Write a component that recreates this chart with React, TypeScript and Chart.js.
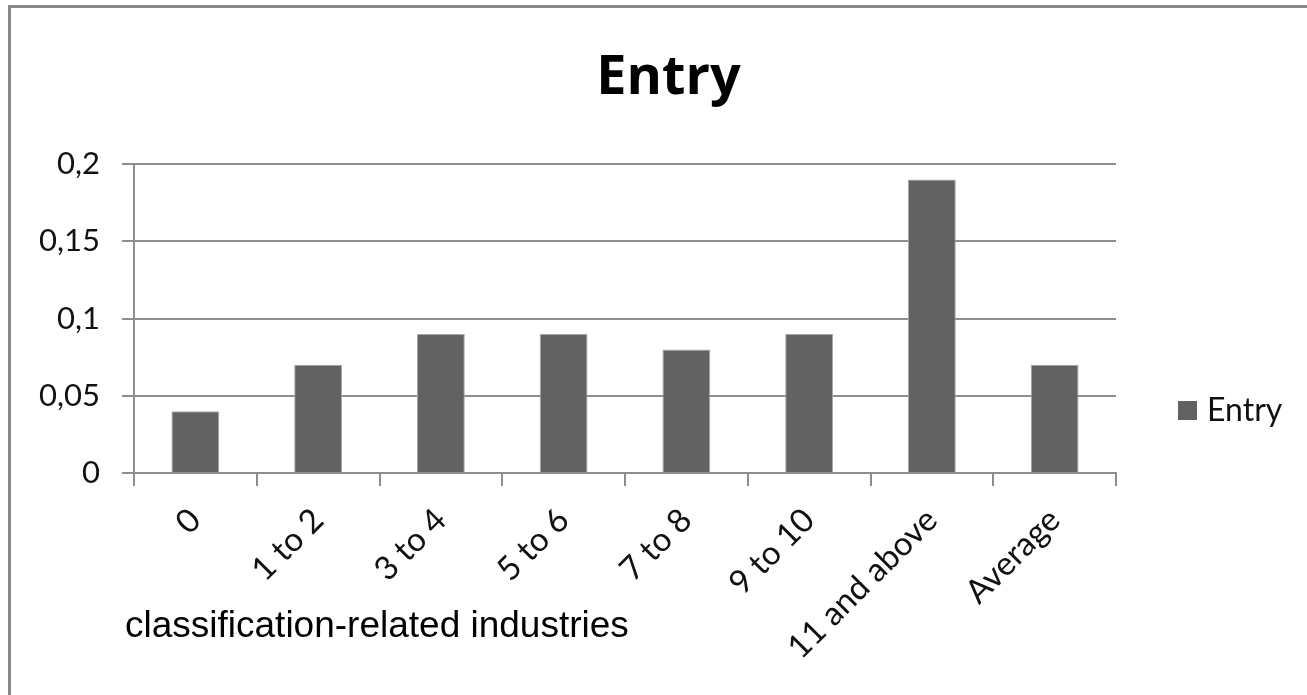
import React, { useEffect, useRef } from 'react';
import { Chart, registerables } from 'chart.js';

Chart.register(...registerables);

// ---- data ----
const categories = ['0', '1 to 2', '3 to 4', '5 to 6', '7 to 8', '9 to 10', '11 and above', 'Average'];
const entryValues = [0.04, 0.07, 0.09, 0.09, 0.08, 0.09, 0.19, 0.07];
const yTickValues = [0, 0.05, 0.1, 0.15, 0.2];
const yTickLabels = ['0', '0,05', '0,1', '0,15', '0,2'];
const seriesName = 'Entry';
const chartTitle = 'Entry';
const xAxisTitle = 'classification-related industries';

// ---- style ----
const W = 1307;
const H = 695;
const BAR_COLOR = '#626262';
const BAR_BORDER = '#a8a8a8';
const GRID_COLOR = '#8e8e8e';
const TEXT_COLOR = '#111111';
const UI_FONT = 'Lato, "Open Sans", "DejaVu Sans", sans-serif';
const TITLE_FONT = '"Open Sans", Lato, "DejaVu Sans", sans-serif';

const overlayPlugin = {
  id: 'overlayText',
  afterDraw(chart: any) {
    const { ctx, chartArea } = chart;
    ctx.save();
    // legend (right side)
    const ds = chart.data.datasets[0];
    const lx = chartArea.right + 62;
    const ly = 401;
    ctx.fillStyle = ds.backgroundColor;
    ctx.fillRect(lx, ly, 19, 19);
    ctx.fillStyle = TEXT_COLOR;
    ctx.font = `32px ${UI_FONT}`;
    ctx.textAlign = 'left';
    ctx.textBaseline = 'alphabetic';
    ctx.fillText(ds.label, lx + 29, ly + 20);
    // category axis caption
    ctx.font = '37px "Liberation Sans", Arial, sans-serif';
    ctx.fillStyle = '#000000';
    ctx.fillText(xAxisTitle, chartArea.left - 9, 637);
    ctx.restore();
  },
};

export default function App() {
  const ref = useRef<HTMLCanvasElement | null>(null);

  useEffect(() => {
    const canvas = ref.current;
    if (!canvas) return;
    const chart = new Chart(canvas, {
      type: 'bar',
      data: {
        labels: categories,
        datasets: [
          {
            label: seriesName,
            data: entryValues,
            backgroundColor: BAR_COLOR,
            borderColor: BAR_BORDER,
            borderWidth: 1,
            categoryPercentage: 1,
            barPercentage: 0.39,
          },
        ],
      },
      options: {
        responsive: false,
        maintainAspectRatio: false,
        animation: false,
        layout: { padding: { top: 0, left: 30, right: 0, bottom: 0 } },
        plugins: {
          legend: { display: false },
          tooltip: { enabled: false },
          title: {
            display: true,
            text: chartTitle,
            color: '#000000',
            font: { family: TITLE_FONT, size: 54, weight: 'bold', lineHeight: 1 },
            padding: { top: 52, bottom: 58 },
          },
        },
        scales: {
          x: {
            afterFit(scale: any) {
              scale.height = 222;
            },
            grid: {
              drawOnChartArea: false,
              drawTicks: true,
              tickLength: 13,
              color: GRID_COLOR,
              lineWidth: 2,
            },
            border: { color: GRID_COLOR, width: 2 },
            ticks: {
              autoSkip: false,
              maxRotation: 45,
              minRotation: 45,
              padding: 17,
              labelOffset: 0,
              color: TEXT_COLOR,
              font: { family: UI_FONT, size: 33, lineHeight: 1 },
            },
          },
          y: {
            min: 0,
            max: 0.2,
            afterFit(scale: any) {
              scale.width = 104;
            },
            grid: {
              drawTicks: true,
              tickLength: 12,
              color: GRID_COLOR,
              lineWidth: 2,
            },
            border: { color: GRID_COLOR, width: 2 },
            ticks: {
              stepSize: 0.05,
              padding: 22,
              color: TEXT_COLOR,
              font: { family: UI_FONT, size: 31, lineHeight: 1 },
              callback: (value: any) => {
                const i = yTickValues.findIndex((v) => Math.abs(v - Number(value)) < 1e-9);
                return i >= 0 ? yTickLabels[i] : '';
              },
            },
          },
          // empty right-hand band that leaves room for the legend
          legendBand: {
            type: 'linear',
            position: 'right',
            display: true,
            afterFit(scale: any) {
              scale.width = 191;
            },
            grid: { display: false, drawTicks: false },
            border: { display: false },
            ticks: { display: false },
          },
        },
      },
      plugins: [overlayPlugin],
    } as any);
    return () => chart.destroy();
  }, []);

  return (
    <div style={{ position: 'fixed', inset: 0, overflow: 'hidden', background: '#ffffff' }}>
      <div
        style={{
          position: 'absolute',
          left: 8,
          top: 5,
          width: 1500,
          height: 900,
          border: '3px solid #898989',
        }}
      />
      <canvas
        ref={ref}
        width={W}
        height={H}
        style={{ position: 'absolute', left: 0, top: 0, display: 'block' }}
      />
    </div>
  );
}
